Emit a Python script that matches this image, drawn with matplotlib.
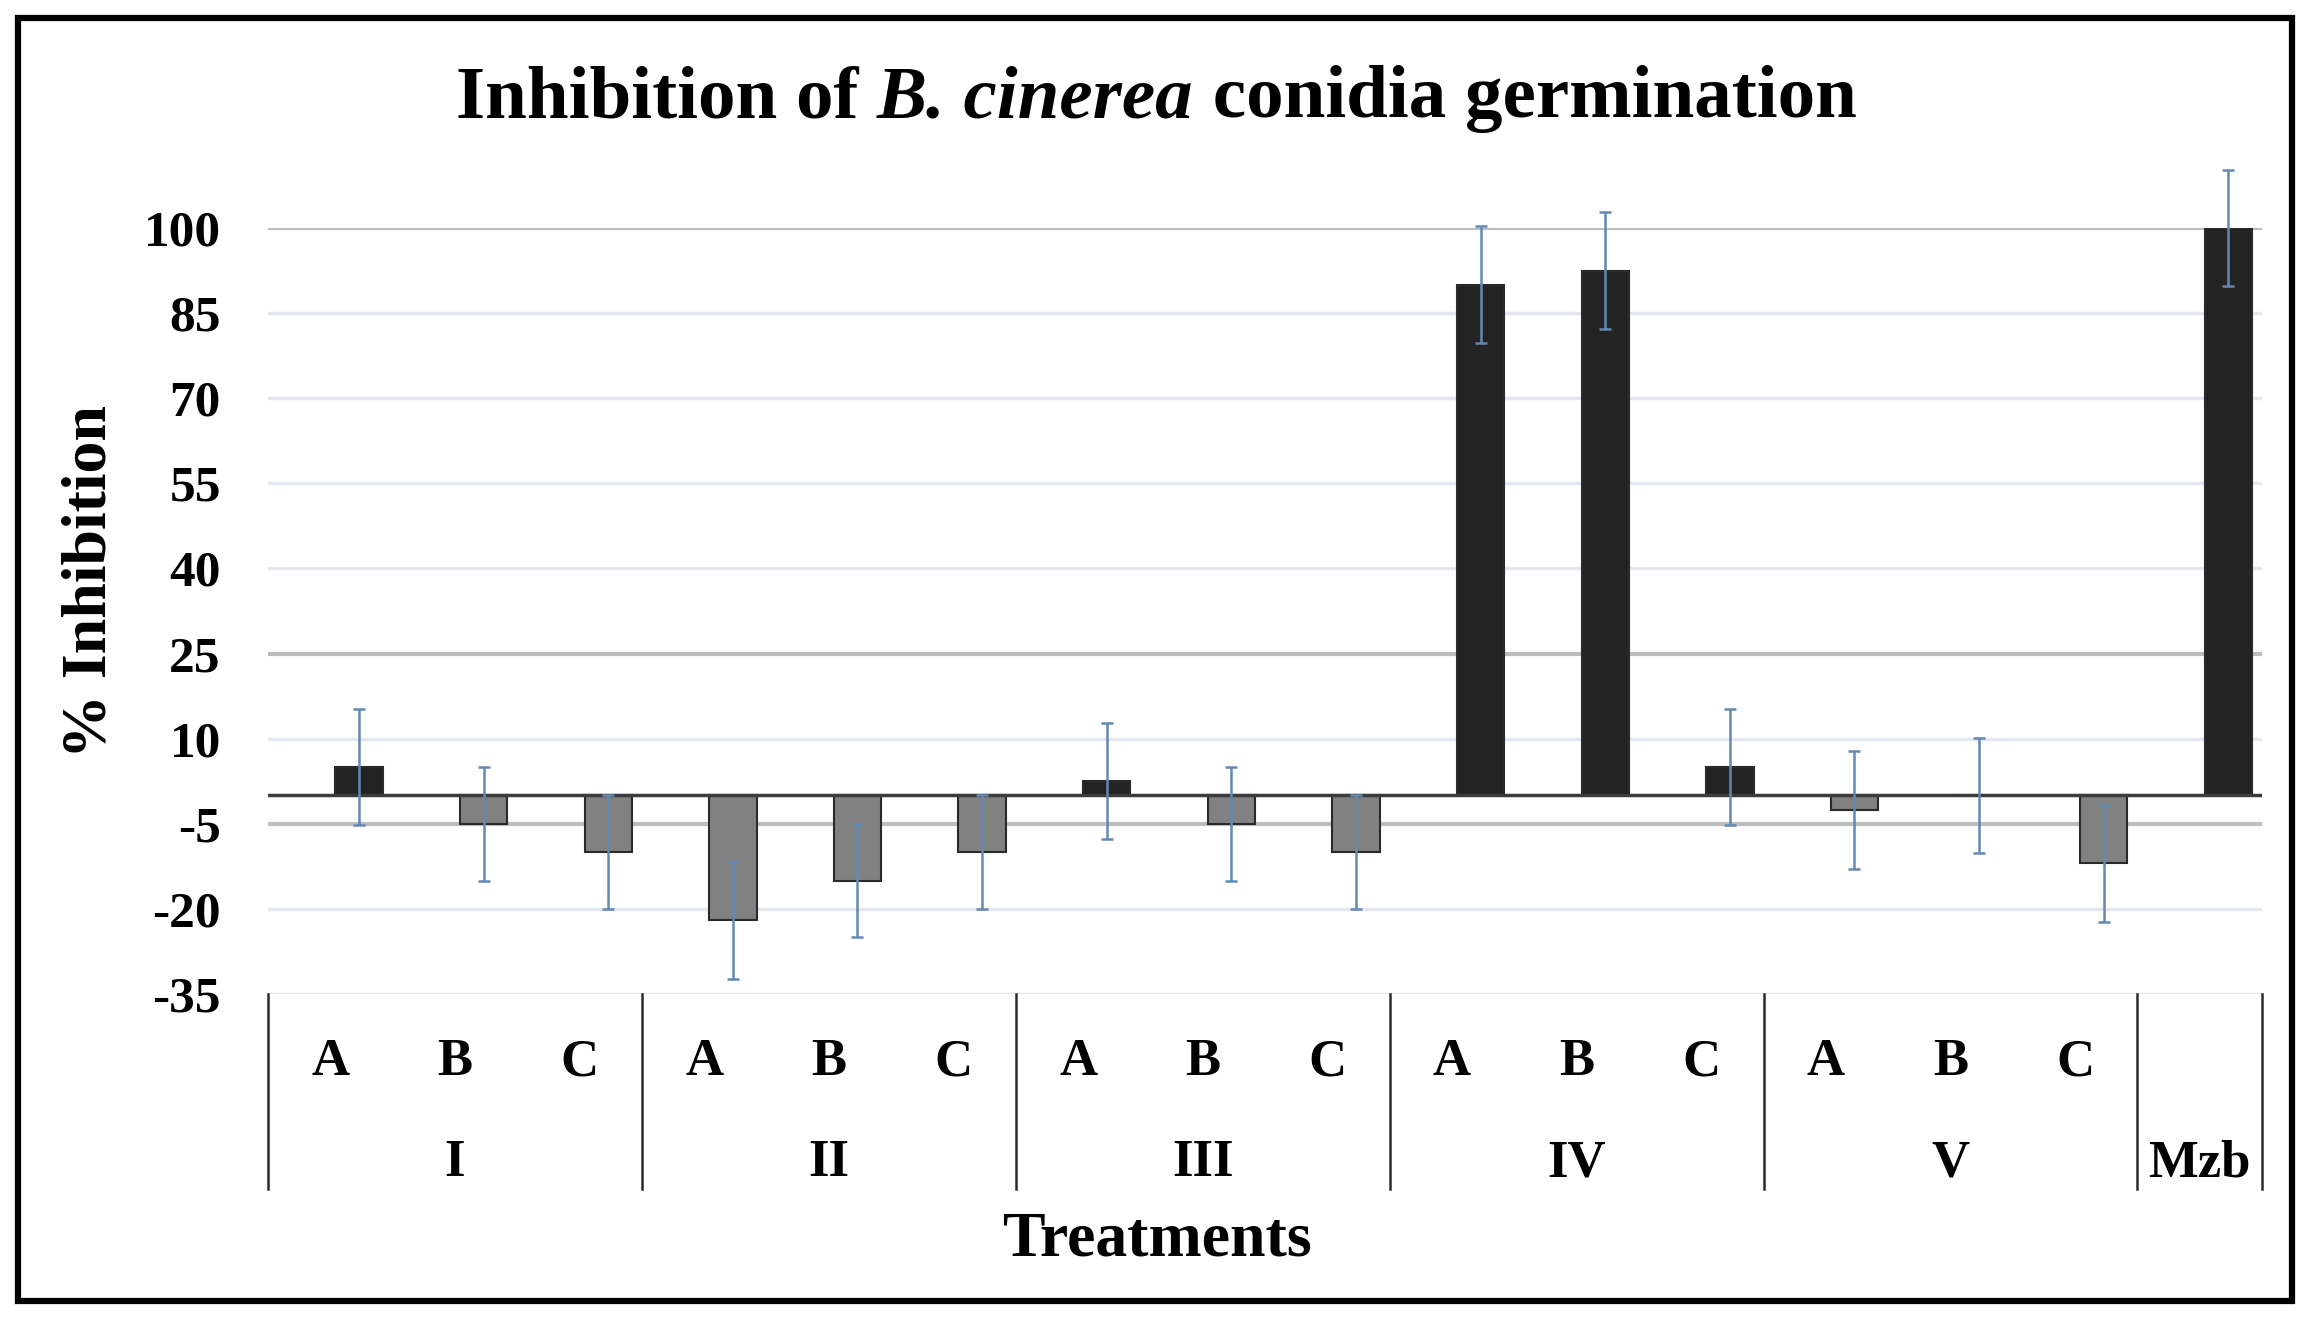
import matplotlib
matplotlib.use("Agg")
import matplotlib.pyplot as plt
from matplotlib.patches import Rectangle
from matplotlib.transforms import blended_transform_factory

# data
groups = ["I", "II", "III", "IV", "V", "Mzb"]
group_sizes = [3, 3, 3, 3, 3, 1]
sub_labels = ["A", "B", "C"] * 5 + [""]
inhibition = [5, -5, -10, -22, -15, -10, 2.5, -5, -10, 90, 92.5, 5, -2.5, 0, -12, 100]
errors = [10.2, 10, 10, 10.3, 10, 10, 10.2, 10, 10, 10.3, 10.3, 10.2, 10.4, 10.2, 10.3, 10.2]
yticks = [-35, -20, -5, 10, 25, 40, 55, 70, 85, 100]

W, H = 2308, 1322
FONT = ["Liberation Serif", "DejaVu Serif"]
plt.rcParams["font.family"] = FONT

fig = plt.figure(figsize=(W / 100, H / 100), dpi=100)
ax = fig.add_axes([268 / W, 1 - 994 / H, (2262 - 268) / W, (994 - 228) / H])

n = len(inhibition)
xs = [i + 0.23 for i in range(n)]
colors = ["#232323" if v > 0 else "#818181" for v in inhibition]
ax.bar(xs, inhibition, width=0.38, color=colors, edgecolor="#2a2a2a", linewidth=1.5, zorder=3)
ax.errorbar(xs, inhibition, yerr=errors, fmt="none", ecolor="#6389b3", elinewidth=1.8,
            capsize=4, capthick=1.8, zorder=4, clip_on=False)

# gridlines
for y in yticks:
    if y in (100, 25, -5):
        ax.axhline(y, color="#bdbdbd", linewidth=3, zorder=1)
    else:
        ax.axhline(y, color="#e4e8ee", linewidth=2.5, zorder=1)
ax.axhline(0, color="#3c3c3c", linewidth=2.5, zorder=3.5)

ax.set_xlim(-0.5, n - 0.5)
ax.set_ylim(-35, 100)
ax.set_yticks(yticks)
ax.set_yticklabels([str(t) for t in yticks], fontsize=37, fontweight="bold")
ax.tick_params(axis="y", length=0, pad=34)
ax.set_xticks([])
for s in ax.spines.values():
    s.set_visible(False)

# hierarchical category axis
tr = blended_transform_factory(ax.transData, ax.transAxes)
for i, lab in enumerate(sub_labels):
    if lab:
        ax.text(i, -0.089, lab, transform=tr, ha="center", va="center",
                fontsize=38, fontweight="bold")
edges = [-0.5]
for g in group_sizes:
    edges.append(edges[-1] + g)
for e in edges:
    ax.plot([e, e], [0, -0.255], transform=tr, color="#2a2a2a", linewidth=1.8, clip_on=False)
for k, g in enumerate(groups):
    cx = (edges[k] + edges[k + 1]) / 2
    ax.text(cx, -0.221, g, transform=tr, ha="center", va="center",
            fontsize=38, fontweight="bold")

fig.text(1157 / W, 1 - 1241 / H, "Treatments", ha="center", va="center",
         fontsize=46, fontweight="bold")
fig.text(91 / W, 1 - 581 / H, "% Inhibition", ha="center", va="center",
         rotation=90, fontsize=46, fontweight="bold")

# title with italic species name
parts = [("Inhibition of ", "normal"), ("B. cinerea", "italic"), (" conidia germination", "normal")]
renderer = fig.canvas.get_renderer()
texts = []
widths = []
for s, st in parts:
    t = fig.text(0, 1 - 99 / H, s, fontsize=54, fontweight="bold", fontstyle=st,
                 ha="left", va="center")
    texts.append(t)
    widths.append(t.get_window_extent(renderer).width)
x0 = 1156 - sum(widths) / 2
for t, w in zip(texts, widths):
    t.set_x(x0 / W)
    x0 += w

# outer frame
fig.patches.append(Rectangle((18 / W, 1 - 1301 / H), (2292 - 18) / W, (1301 - 18) / H,
                             transform=fig.transFigure, fill=False, edgecolor="black",
                             linewidth=4.5))

fig.savefig("out.png", dpi=100)
